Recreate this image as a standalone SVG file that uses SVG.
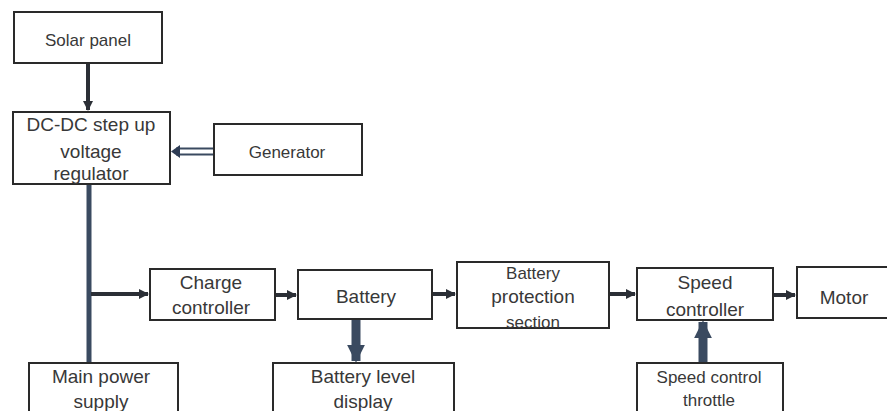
<svg xmlns="http://www.w3.org/2000/svg" width="887" height="411" viewBox="0 0 887 411">
<defs>
<style>
.box{fill:#fff;stroke:#2a2a2a;stroke-width:2}
.t{font-family:"Liberation Sans",Arial,sans-serif;font-size:19px;fill:#383838;text-anchor:middle}
.tm{font-family:"Liberation Sans",Arial,sans-serif;font-size:17px;fill:#383838;text-anchor:middle}
.ln{stroke:#2b2f36;stroke-width:4;fill:none}
.bl{stroke:#3a4a60;fill:none}
</style>
<marker id="ah" viewBox="0 0 10 10" refX="9" refY="5" markerWidth="2.5" markerHeight="2.5" orient="auto" markerUnits="strokeWidth"><path d="M0,0 L10,5 L0,10 z" fill="#2b2f36"/></marker>
<marker id="ahb" viewBox="0 0 10 10" refX="9" refY="5" markerWidth="2" markerHeight="2" orient="auto" markerUnits="strokeWidth"><path d="M0,0 L10,5 L0,10 z" fill="#3a4a60"/></marker>
</defs>
<rect width="887" height="411" fill="#fff"/>
<g id="connectors">
<line class="ln" x1="88" y1="63" x2="88" y2="110" marker-end="url(#ah)"/>
<line class="bl" x1="213" y1="148.5" x2="176" y2="148.5" stroke-width="2"/>
<line class="bl" x1="213" y1="154.5" x2="176" y2="154.5" stroke-width="2"/>
<path d="M171,151.5 L180,145 L180,158 z" fill="#2f3d55"/>
<line class="bl" x1="89" y1="184" x2="89" y2="363" stroke-width="5"/>
<line class="ln" x1="91" y1="294" x2="148" y2="294" marker-end="url(#ah)"/>
<line class="ln" x1="275" y1="295" x2="296" y2="295" marker-end="url(#ah)"/>
<line class="ln" x1="432" y1="294" x2="455" y2="294" marker-end="url(#ah)"/>
<line class="ln" x1="610" y1="294" x2="635" y2="294" marker-end="url(#ah)"/>
<line class="ln" x1="773" y1="295" x2="795" y2="295" marker-end="url(#ah)"/>
<line class="bl" x1="356" y1="320" x2="356" y2="361" stroke-width="9" marker-end="url(#ahb)"/>
<line class="bl" x1="703" y1="363" x2="703" y2="322" stroke-width="9" marker-end="url(#ahb)"/>
</g>
<g id="solar"><rect class="box" x="14" y="12" width="148" height="51"/><text class="tm" x="88" y="46">Solar panel</text></g>
<g id="dcdc"><rect class="box" x="13" y="112" width="157" height="72"/><text class="t" x="91" y="131">DC-DC step up</text><text class="t" x="91" y="158">voltage</text><text class="t" x="91" y="180">regulator</text></g>
<g id="generator"><rect class="box" x="214" y="124" width="148" height="51"/><text class="tm" x="287" y="158">Generator</text></g>
<g id="charge"><rect class="box" x="150" y="269" width="125" height="51"/><text class="t" x="211" y="289">Charge</text><text class="t" x="211" y="314">controller</text></g>
<g id="battery"><rect class="box" x="298" y="270" width="134" height="49"/><text class="t" x="366" y="303">Battery</text></g>
<g id="protection"><rect class="box" x="457" y="262" width="152" height="66"/><text class="tm" x="533" y="279">Battery</text><text class="t" x="533" y="303">protection</text><text class="tm" x="533" y="328">section</text></g>
<g id="speedctrl"><rect class="box" x="637" y="268" width="136" height="52"/><text class="t" x="705" y="289">Speed</text><text class="t" x="705" y="316">controller</text></g>
<g id="motor"><rect class="box" x="797" y="267" width="100" height="51"/><text class="t" x="844" y="304">Motor</text></g>
<g id="mainpower"><rect class="box" x="29" y="363" width="149" height="60"/><text class="t" x="101" y="383">Main power</text><text class="t" x="101" y="408">supply</text></g>
<g id="batdisplay"><rect class="box" x="273" y="363" width="181" height="60"/><text class="t" x="363" y="383">Battery level</text><text class="t" x="363" y="408">display</text></g>
<g id="throttle"><rect class="box" x="637" y="363" width="146" height="60"/><text class="tm" x="709" y="383">Speed control</text><text class="tm" x="709" y="406">throttle</text></g>
</svg>
